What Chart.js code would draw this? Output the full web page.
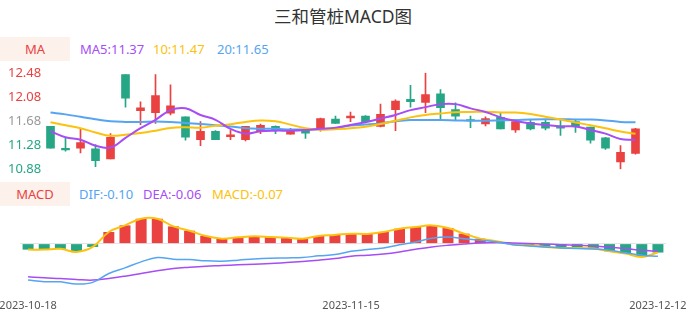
<!DOCTYPE html>
<html lang="zh">
<head>
<meta charset="UTF-8"/>
<title>三和管桩MACD图</title>
<script src="https://cdn.jsdelivr.net/npm/chart.js@4.4.0/dist/chart.umd.min.js"></script>
<style>
  body { margin: 0; width: 686px; height: 320px; overflow: hidden; background: #fff;
         font-family: 'Noto Sans', 'Noto Sans CJK SC', sans-serif; position: relative; }
  .abs { position: absolute; white-space: nowrap; }
  #title { left: 0; width: 686px; top: 3px; text-align: center; font-size: 17.5px; color: #333; }
  .tag { left: 0; width: 70px; height: 24px; line-height: 24px; text-align: center;
         background: #fdf1ec; color: #ea4141; font-size: 13px; }
  .leg { font-size: 13px; line-height: 24px; }
  canvas { position: absolute; left: 0; }
</style>
</head>
<body>
<div id="title" class="abs">三和管桩MACD图</div>

<div class="abs tag" style="top:37px">MA</div>
<div class="abs leg" style="top:37px;left:80px;color:#a64df5">MA5:11.37</div>
<div class="abs leg" style="top:37px;left:153px;color:#fcc20d">10:11.47</div>
<div class="abs leg" style="top:37px;left:217px;color:#55a5f2">20:11.65</div>

<div class="abs tag" style="top:182px">MACD</div>
<div class="abs leg" style="top:182px;left:79px;color:#55a5f2">DIF:-0.10</div>
<div class="abs leg" style="top:182px;left:143px;color:#a64df5">DEA:-0.06</div>
<div class="abs leg" style="top:182px;left:212px;color:#fcc20d">MACD:-0.07</div>

<canvas id="kline" width="686" height="118" style="top:62px"></canvas>
<canvas id="macd" width="686" height="117" style="top:203px"></canvas>

<script>
const dates = ['2023-10-18','2023-10-19','2023-10-20','2023-10-23','2023-10-24','2023-10-25','2023-10-26','2023-10-27','2023-10-30','2023-10-31',
  '2023-11-01','2023-11-02','2023-11-03','2023-11-06','2023-11-07','2023-11-08','2023-11-09','2023-11-10','2023-11-13','2023-11-14',
  '2023-11-15','2023-11-16','2023-11-17','2023-11-20','2023-11-21','2023-11-22','2023-11-23','2023-11-24','2023-11-27','2023-11-28',
  '2023-11-29','2023-11-30','2023-12-01','2023-12-04','2023-12-05','2023-12-06','2023-12-07','2023-12-08','2023-12-11','2023-12-12'];

const openP  = [11.59,11.21,11.23,11.22,11.05,12.45,11.85,11.82,11.81,11.75, 11.37,11.51,11.42,11.37,11.52,11.59,11.46,11.53,11.55,11.71,
                11.73,11.76,11.59,11.87,12.04,11.99,12.13,11.87,11.70,11.63, 11.74,11.53,11.66,11.66,11.60,11.67,11.58,11.40,11.00,11.14];
const closeP = [11.23,11.20,11.32,11.02,11.41,12.06,11.90,12.10,11.93,11.41, 11.51,11.37,11.45,11.59,11.61,11.52,11.54,11.48,11.72,11.64,
                11.76,11.67,11.79,12.01,12.00,12.12,11.90,11.76,11.68,11.72, 11.55,11.67,11.55,11.56,11.56,11.59,11.36,11.23,11.16,11.55];
const highP  = [11.59,11.40,11.55,11.29,11.47,12.45,12.00,12.45,12.28,11.75, 11.67,11.52,11.53,11.59,11.63,11.60,11.56,11.54,11.73,11.76,
                11.83,11.77,11.96,12.03,12.27,12.48,12.20,11.98,11.76,11.75, 11.81,11.68,11.69,11.69,11.70,11.70,11.58,11.41,11.27,11.56];
const lowP   = [11.23,11.18,11.15,10.92,11.05,11.91,11.62,11.64,11.78,11.36, 11.27,11.37,11.37,11.35,11.47,11.47,11.46,11.39,11.51,11.64,
                11.67,11.66,11.58,11.52,11.91,11.82,11.71,11.70,11.57,11.60, 11.55,11.49,11.53,11.53,11.44,11.49,11.31,11.21,10.88,11.13];

const ma5  = [11.51,11.41,11.37,11.27,11.24,11.40,11.56,11.70,11.86,11.89, 11.78,11.70,11.55,11.47,11.51,11.52,11.52,11.53,11.55,11.57,
              11.615,11.66,11.72,11.78,11.86,11.91,11.96,11.96,11.89,11.83, 11.74,11.68,11.64,11.615,11.59,11.59,11.53,11.47,11.38,11.37];
const ma10 = [11.66,11.61,11.56,11.49,11.435,11.45,11.48,11.52,11.565,11.575, 11.57,11.60,11.625,11.665,11.69,11.675,11.62,11.56,11.535,11.545,
              11.56,11.585,11.63,11.685,11.74,11.78,11.805,11.825,11.83,11.835, 11.82,11.82,11.795,11.75,11.705,11.655,11.61,11.56,11.505,11.47];
const ma20 = [11.82,11.79,11.75,11.71,11.675,11.665,11.665,11.67,11.665,11.645, 11.63,11.61,11.59,11.56,11.55,11.55,11.54,11.54,11.545,11.56,
              11.605,11.62,11.64,11.675,11.695,11.695,11.695,11.69,11.685,11.685, 11.69,11.695,11.705,11.71,11.71,11.705,11.705,11.69,11.665,11.66];

const dif  = [-0.286,-0.299,-0.299,-0.317,-0.304,-0.234,-0.19,-0.143,-0.109,-0.122, -0.125,-0.135,-0.138,-0.13,-0.12,-0.114,-0.112,-0.109,-0.096,-0.086,
              -0.06,-0.047,-0.034,-0.008,0.013,0.042,0.052,0.039,0.026,0.013, -0.008,-0.018,-0.026,-0.034,-0.039,-0.042,-0.052,-0.073,-0.091,-0.099];
const dea  = [-0.26,-0.268,-0.273,-0.281,-0.286,-0.273,-0.255,-0.234,-0.213,-0.195, -0.185,-0.177,-0.172,-0.166,-0.161,-0.156,-0.148,-0.14,-0.13,-0.117,
              -0.099,-0.091,-0.081,-0.065,-0.044,-0.026,-0.013,-0.003,0.005,0.008, 0.005,0.0,-0.003,-0.008,-0.013,-0.018,-0.029,-0.039,-0.052,-0.06];
const macd = [-0.047,-0.047,-0.041,-0.065,-0.026,0.091,0.143,0.195,0.195,0.135, 0.101,0.06,0.039,0.049,0.057,0.052,0.047,0.039,0.06,0.068,
              0.078,0.076,0.091,0.117,0.13,0.143,0.122,0.078,0.039,0.018, -0.005,-0.013,-0.026,-0.034,-0.034,-0.039,-0.06,-0.078,-0.104,-0.07];

const yTicks = [10.88, 11.28, 11.68, 12.08, 12.48];
const xTickLabels = ['2023-10-18', '2023-11-15', '2023-12-12'];

const RED = '#ea4141', GREEN = '#27a685';
const PURPLE = '#a64df5', YELLOW = '#fcc20d', BLUE = '#55a5f2';
const FONT = "'Noto Sans', 'Noto Sans CJK SC', sans-serif";

const candleColor = openP.map((o, i) => closeP[i] >= o ? RED : GREEN);

function maLine(data, color) {
  return { type: 'line', data: data, borderColor: color, borderWidth: 2, pointRadius: 0,
           tension: 0.4, fill: false, order: 0 };
}

new Chart(document.getElementById('kline'), {
  type: 'bar',
  data: {
    labels: dates,
    datasets: [
      maLine(ma5, PURPLE),
      maLine(ma10, YELLOW),
      maLine(ma20, BLUE),
      { data: openP.map((o, i) => [o, closeP[i]]), backgroundColor: candleColor,
        barThickness: 8, minBarLength: 1.5, grouped: false, order: 1 },
      { data: lowP.map((l, i) => [l, highP[i]]), backgroundColor: candleColor,
        barThickness: 1, grouped: false, order: 2 }
    ]
  },
  options: {
    responsive: false,
    animation: false,
    layout: { padding: { left: 8, right: 43, top: 10, bottom: 10 } },
    plugins: { legend: { display: false }, tooltip: { enabled: false } },
    scales: {
      x: { display: false, offset: true },
      y: {
        min: 10.88, max: 12.48,
        afterBuildTicks: s => { s.ticks = yTicks.map(v => ({ value: v })); },
        afterFit: s => { s.width = 35; },
        grid: { display: false }, border: { display: false },
        ticks: {
          crossAlign: 'far',
          font: { family: FONT, size: 13 },
          callback: v => v.toFixed(2),
          color: c => c.tick.value > 11.68 ? RED : (c.tick.value < 11.68 ? GREEN : '#999')
        }
      }
    }
  }
});

new Chart(document.getElementById('macd'), {
  type: 'bar',
  data: {
    labels: dates,
    datasets: [
      { type: 'line', data: dif, borderColor: BLUE, borderWidth: 1.5, pointRadius: 0, tension: 0.4, order: 0 },
      { type: 'line', data: dea, borderColor: PURPLE, borderWidth: 1.5, pointRadius: 0, tension: 0.4, order: 0 },
      { type: 'line', data: macd, borderColor: YELLOW, borderWidth: 2, pointRadius: 0, tension: 0.4, order: 0 },
      { data: macd, backgroundColor: macd.map(v => v >= 0 ? RED : GREEN),
        barPercentage: 0.68, categoryPercentage: 1, order: 1 }
    ]
  },
  options: {
    responsive: false,
    animation: false,
    layout: { padding: { left: 20, right: 20, top: 10, bottom: 7 } },
    plugins: { legend: { display: false }, tooltip: { enabled: false } },
    scales: {
      x: {
        offset: true,
        grid: { display: false, drawTicks: false }, border: { display: false },
        afterFit: s => { s.height = 26; s.paddingLeft = 0; s.paddingRight = 0; },
        ticks: {
          autoSkip: false, maxRotation: 0, padding: 12,
          font: { family: FONT, size: 11 }, color: '#555',
          callback: (v, i) => xTickLabels.includes(dates[i]) ? dates[i] : ''
        }
      },
      y: {
        min: -0.34, max: 0.24,
        afterBuildTicks: s => { s.ticks = [{ value: -0.34 }, { value: 0 }, { value: 0.24 }]; },
        afterFit: s => { s.width = 0; },
        border: { display: false },
        grid: { drawTicks: false, color: c => c.tick.value === 0 ? '#e4e4e4' : 'rgba(0,0,0,0)' },
        ticks: { display: false }
      }
    }
  }
});
</script>
</body>
</html>
